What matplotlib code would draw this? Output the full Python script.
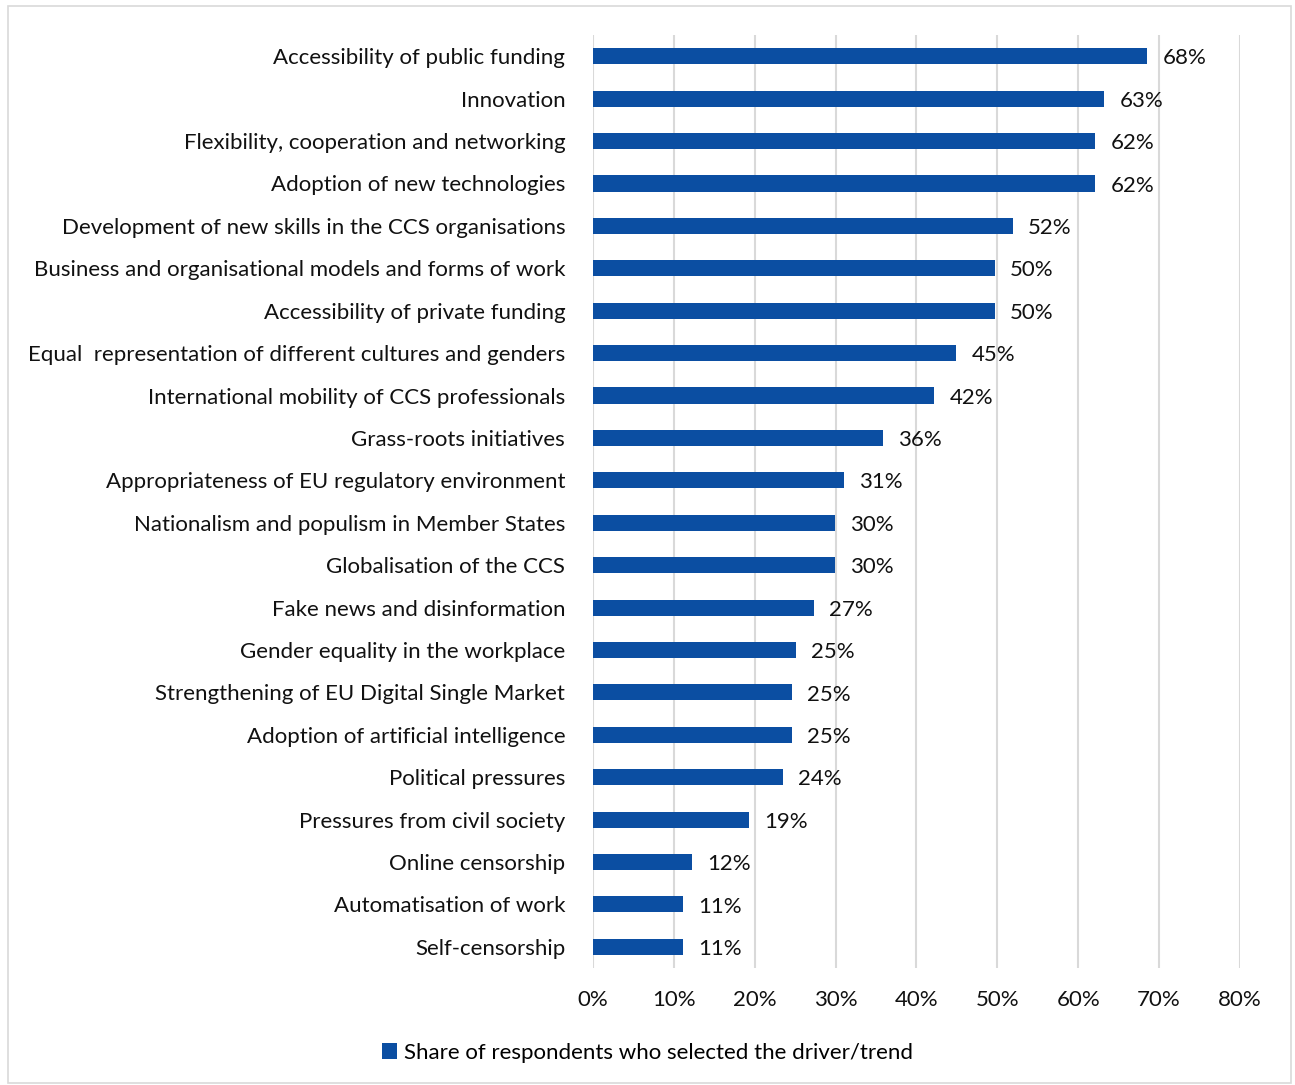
import matplotlib.pyplot as plt
from matplotlib.patches import Rectangle

plt.rcParams['font.family'] = ['Lato', 'DejaVu Sans']

categories = [
    'Accessibility of public funding',
    'Innovation',
    'Flexibility, cooperation and networking',
    'Adoption of new technologies',
    'Development of new skills in the CCS organisations',
    'Business and organisational models and forms of work',
    'Accessibility of private funding',
    'Equal  representation of different cultures and genders',
    'International mobility of CCS professionals',
    'Grass-roots initiatives',
    'Appropriateness of EU regulatory environment',
    'Nationalism and populism in Member States',
    'Globalisation of the CCS',
    'Fake news and disinformation',
    'Gender equality in the workplace',
    'Strengthening of EU Digital Single Market',
    'Adoption of artificial intelligence',
    'Political pressures',
    'Pressures from civil society',
    'Online censorship',
    'Automatisation of work',
    'Self-censorship',
]
values = [68.5, 63.2, 62.1, 62.1, 51.9, 49.7, 49.7, 44.9, 42.2, 35.8, 31.0,
          29.9, 29.9, 27.3, 25.1, 24.6, 24.6, 23.5, 19.3, 12.2, 11.1, 11.1]
value_labels = ['68%', '63%', '62%', '62%', '52%', '50%', '50%', '45%', '42%',
                '36%', '31%', '30%', '30%', '27%', '25%', '25%', '25%', '24%',
                '19%', '12%', '11%', '11%']
xticks = [0, 10, 20, 30, 40, 50, 60, 70, 80]
legend_label = 'Share of respondents who selected the driver/trend'

bar_color = '#0B4EA2'
fs = 16

fig = plt.figure(figsize=(12.95, 10.85), dpi=100)
ax = fig.add_axes([0.4579, 0.1078, 0.4996, 0.8599])

y = list(range(len(categories)))
ax.barh(y, values, height=0.38, color=bar_color, label=legend_label, zorder=3)
for yi, v, lab in zip(y, values, value_labels):
    ax.text(v + 1.9, yi + 0.05, lab, va='center', ha='left', fontsize=fs, color='#111111')

ax.set_ylim(len(categories) - 0.5, -0.5)
ax.set_xlim(0, 80)
ax.set_yticks(y)
ax.set_yticklabels(categories, fontsize=fs, color='#111111')
ax.set_xticks(xticks)
ax.set_xticklabels([f'{t}%' for t in xticks], fontsize=fs, color='#111111')
ax.tick_params(axis='both', length=0)
ax.tick_params(axis='y', pad=20)
ax.tick_params(axis='x', pad=16)
ax.grid(axis='x', color='#D9D9D9', linewidth=1.5, zorder=0)
for s in ax.spines.values():
    s.set_visible(False)

fig.legend(loc='center', bbox_to_anchor=(0.5, 1 - 1053 / 1085), frameon=False,
           fontsize=fs, handlelength=0.7, handleheight=0.7, handletextpad=0.3)

fig.patches.append(Rectangle((8 / 1295, 2 / 1085), 1283 / 1295, 1077 / 1085,
                             transform=fig.transFigure, fill=False,
                             edgecolor='#D9D9D9', linewidth=1.2))

fig.savefig('out.png', dpi=100)
